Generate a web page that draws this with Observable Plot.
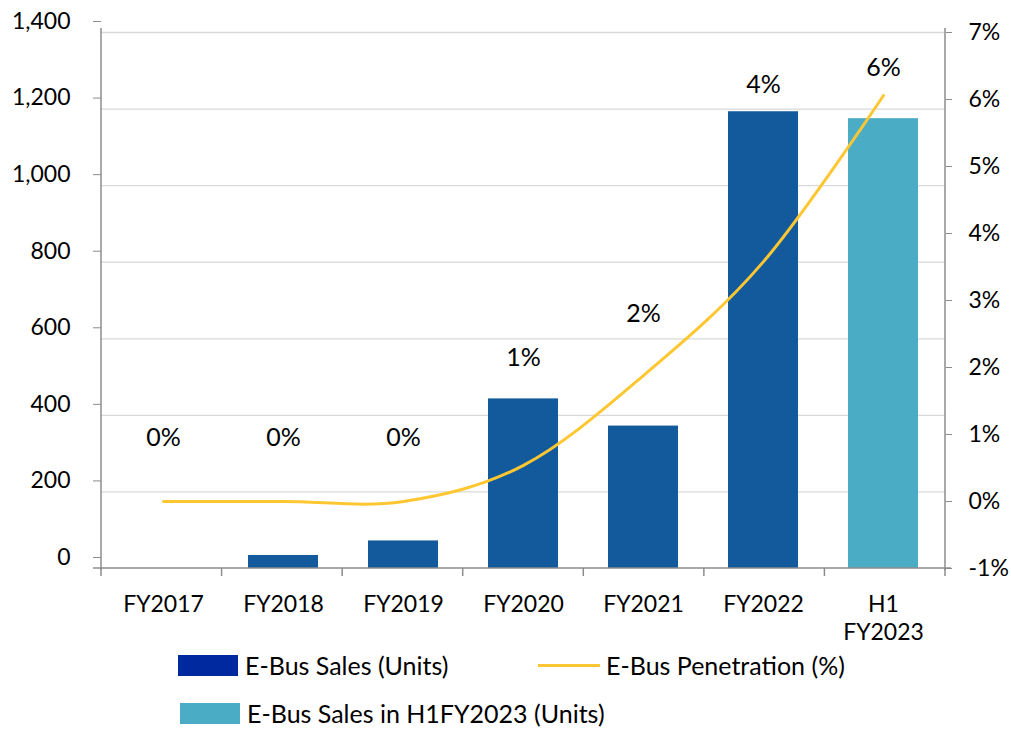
<!DOCTYPE html>
<html>
<head>
<meta charset="utf-8">
<script src="https://cdn.jsdelivr.net/npm/d3@7"></script>
<script src="https://cdn.jsdelivr.net/npm/@observablehq/plot@0.6"></script>
<style>
  html, body { margin: 0; padding: 0; background: #fff; }
  #wrap { position: relative; width: 1011px; height: 729px; font-family: Lato, "Open Sans", sans-serif; color: #000; }
  .leg { position: absolute; display: flex; align-items: center; font-size: 25px; white-space: nowrap; height: 28px; }
  .sw { display: inline-block; width: 60px; height: 21px; margin-right: 7px; }
  .ln { display: inline-block; width: 62px; height: 3px; margin-right: 6px; }
</style>
</head>
<body>
<div id="wrap">
  <div id="chart"></div>
</div>
<script>
const categories = ["FY2017", "FY2018", "FY2019", "FY2020", "FY2021", "FY2022", "H1 FY2023"];
const sales = [0, 34, 72, 443, 372, 1193, 1175];
const salesSeries = ["E-Bus Sales (Units)", "E-Bus Sales (Units)", "E-Bus Sales (Units)", "E-Bus Sales (Units)", "E-Bus Sales (Units)", "E-Bus Sales (Units)", "E-Bus Sales in H1FY2023 (Units)"];
const penetration = [0.0, 0.0, 0.0, 0.54, 1.88, 3.58, 6.06];
const penetrationLabels = ["0%", "0%", "0%", "1%", "2%", "4%", "6%"];
const labelAt = [340, 340, 340, 551, 666, 1264, 1306];
const leftTicks = [0, 200, 400, 600, 800, 1000, 1200, 1400];
const rightTicks = [-1, 0, 1, 2, 3, 4, 5, 6, 7];
const legendNames = ["E-Bus Sales (Units)", "E-Bus Penetration (%)", "E-Bus Sales in H1FY2023 (Units)"];

const colors = {
  "E-Bus Sales (Units)": "#135A9D",
  "E-Bus Sales in H1FY2023 (Units)": "#4BACC6"
};
const lineColor = "#FEC732";
const axisColor = "#8C8C8C";
const gridColor = "#D9D9D9";

// right axis (-1%..7%) mapped onto the left axis range (0..1400)
const pctToUnits = p => (p + 1) * 175;
const unitsToPct = u => Math.round(u / 175 - 1);

const rows = categories.map((c, i) => ({
  cat: c, sales: sales[i], series: salesSeries[i],
  pen: pctToUnits(penetration[i]), label: penetrationLabels[i], labelAt: labelAt[i]
}));

const axisLines = (index, scales, values, dims) => {
  const g = d3.create("svg:g").attr("stroke", axisColor).attr("stroke-width", 1.5).attr("fill", "none");
  const left = dims.marginLeft, right = dims.width - dims.marginRight;
  const top = dims.marginTop, bottom = dims.height - dims.marginBottom;
  g.append("line").attr("x1", left).attr("x2", left).attr("y1", top - 4).attr("y2", bottom + 2);
  g.append("line").attr("x1", right).attr("x2", right).attr("y1", top - 4).attr("y2", bottom + 2);
  g.append("line").attr("x1", left - 8).attr("x2", right + 6).attr("y1", bottom).attr("y2", bottom);
  const step = (right - left) / categories.length;
  for (let i = 0; i <= categories.length; i++) {
    g.append("line").attr("x1", left + i * step).attr("x2", left + i * step).attr("y1", bottom).attr("y2", bottom + 8);
  }
  return g.node();
};

const chart = Plot.plot({
  width: 1011,
  height: 645,
  marginLeft: 101,
  marginRight: 66,
  marginTop: 32,
  marginBottom: 77,
  style: { fontFamily: "Lato, 'Open Sans', sans-serif", fontSize: "23px", color: "#000", background: "#fff" },
  x: { domain: categories, paddingInner: 0.42, paddingOuter: 0.21, axis: null },
  y: { domain: [0, 1400], axis: null },
  marks: [
    Plot.ruleY(leftTicks.slice(1), { stroke: gridColor, strokeWidth: 1.3 }),
    Plot.barY(rows, { x: "cat", y: "sales", fill: d => colors[d.series] }),
    Plot.line(rows, { x: "cat", y: "pen", stroke: lineColor, strokeWidth: 3, curve: "cardinal" }),
    Plot.text(rows, { x: "cat", y: "labelAt", text: "label", fontSize: 25, fill: "#000" }),
    Plot.axisY(leftTicks, { anchor: "left", label: null, tickSize: 8, tickPadding: 23, dy: -11, tickFormat: d3.format(","), stroke: axisColor, fill: "#000", fontSize: 23 }),
    Plot.axisY(rightTicks.map(pctToUnits), { anchor: "right", label: null, tickSize: 6, tickPadding: 17, tickFormat: v => `${unitsToPct(v)}%`, stroke: axisColor, fill: "#000", fontSize: 23 }),
    Plot.axisX(categories, { anchor: "bottom", label: null, tickSize: 0, tickPadding: 24, tickFormat: d => d.replace(" ", "\n"), lineHeight: 1.22, fill: "#000", fontSize: 23 }),
    axisLines
  ]
});
document.getElementById("chart").appendChild(chart);

const wrap = document.getElementById("wrap");
function addLegend(name, kind, color, left, top) {
  const d = document.createElement("div");
  d.className = "leg";
  d.style.left = left + "px";
  d.style.top = top + "px";
  const s = document.createElement("span");
  s.className = kind;
  s.style.background = color;
  d.appendChild(s);
  d.appendChild(document.createTextNode(name));
  wrap.appendChild(d);
}
addLegend(legendNames[0], "sw", "#0029A0", 178, 651);
addLegend(legendNames[1], "ln", lineColor, 538, 651);
addLegend(legendNames[2], "sw", colors["E-Bus Sales in H1FY2023 (Units)"], 180, 699);
</script>
</body>
</html>
